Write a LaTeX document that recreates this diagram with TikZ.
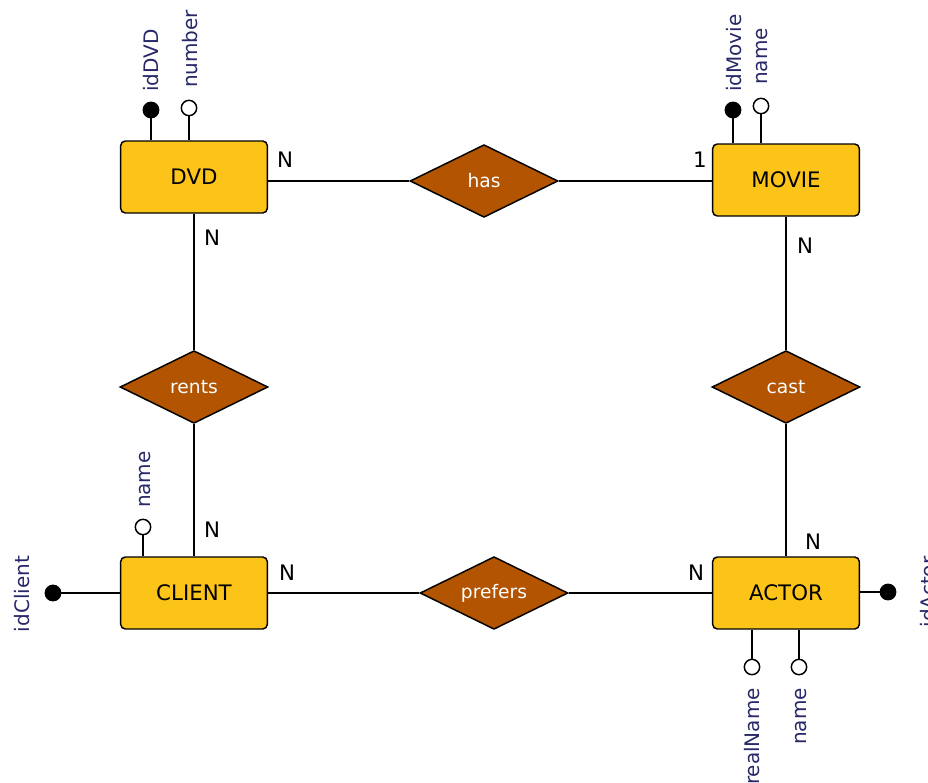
\documentclass[tikz,border=0pt]{standalone}
\usepackage{fontspec}
\setmainfont{DejaVu Sans}
\usepackage{tikz}
\usetikzlibrary{shapes.geometric}

\definecolor{entityfill}{RGB}{252,196,25}
\definecolor{relfill}{RGB}{178,84,0}
\definecolor{attrtext}{RGB}{40,40,105}

\tikzset{
	entity/.style={draw, fill=entityfill, rounded corners=3.5pt, minimum width=110pt, minimum height=54pt, font=\fontsize{16}{19}\selectfont},
	relation/.style={diamond, shape aspect=2, draw, fill=relfill, text=white, minimum width=111pt, minimum height=54.5pt, inner sep=0pt, font=\fontsize{14}{17}\selectfont},
	keyattr/.style={circle, draw, fill=black, minimum size=11.5pt, inner sep=0pt},
	plainattr/.style={circle, draw, fill=white, minimum size=11.5pt, inner sep=0pt},
	attrlabel/.style={rotate=90, text=attrtext, inner sep=1pt, font=\fontsize{15}{18}\selectfont},
	card/.style={inner sep=0pt, font=\fontsize{16}{19}\selectfont}
}

\begin{document}
\begin{tikzpicture}[x=0.75pt, y=-0.75pt, line width=1.1pt]
		
		\useasboundingbox (0,0) rectangle (928,782);
		
		%
		\node[entity] (dvd) at (194,177) {DVD};
		\node[entity] (movie) at (786,180) {MOVIE};
		\node[entity] (client) at (194,593) {CLIENT};
		\node[entity] (actor) at (786,593) {ACTOR};
		
		%
		\node[relation] (has) at (484,181) {has};
		\node[relation] (rents) at (194,387) {rents};
		\node[relation] (cast) at (786,387) {cast};
		\node[relation] (prefers) at (494,593) {prefers};
		
		\draw (has.west) -- (has.west -| dvd.east);
		\draw (has.east) -- (has.east -| movie.west);
		\draw (dvd.south) -- (rents.north);
		\draw (rents.south) -- (client.north);
		\draw (movie.south) -- (cast.north);
		\draw (cast.south) -- (actor.north);
		\draw (prefers.west) -- (client.east);
		\draw (prefers.east) -- (actor.west);
		
		%
		\node[card] (c1) at (285,160) {N};
		\node[card] (c2) at (700,160) {1};
		\node[card] (c3) at (212,238) {N};
		\node[card] (c4) at (805,246) {N};
		\node[card] (c5) at (212,530) {N};
		\node[card] (c6) at (813,542) {N};
		\node[card] (c7) at (287,573) {N};
		\node[card] (c8) at (696,573) {N};
		
		%
		\node[keyattr] (idDVD) at (151,110) {};
		\node[plainattr] (number) at (189,108) {};
		\draw (idDVD) -- (idDVD |- dvd.north);
		\draw (number) -- (number |- dvd.north);
		\node[attrlabel, anchor=west] (idDVDl) at (151,94) {idDVD};
		\node[attrlabel, anchor=west] (numberl) at (190,90) {number};
		
		\node[keyattr] (idMovie) at (733,110) {};
		\node[plainattr] (movieName) at (761,106) {};
		\draw (idMovie) -- (idMovie |- movie.north);
		\draw (movieName) -- (movieName |- movie.north);
		\node[attrlabel, anchor=west] (idMoviel) at (734,94) {idMovie};
		\node[attrlabel, anchor=west] (movieNamel) at (762,87) {name};
		
		\node[plainattr] (clientName) at (143,527) {};
		\node[keyattr] (idClient) at (53,593) {};
		\draw (clientName) -- (clientName |- client.north);
		\draw (idClient) -- (client.west);
		\node[attrlabel, anchor=west] (clientNamel) at (145,510) {name};
		\node[attrlabel] (idClientl) at (22,594) {idClient};
		
		\node[keyattr] (idActor) at (888,592) {};
		\node[plainattr] (realName) at (752,667) {};
		\node[plainattr] (actorName) at (799,667) {};
		\draw (idActor) -- (idActor -| actor.east);
		\draw (realName) -- (realName |- actor.south);
		\draw (actorName) -- (actorName |- actor.south);
		\node[attrlabel] (idActorl) at (928,592) {idActor};
		\node[attrlabel, anchor=east] (realNamel) at (752,686) {realName};
		\node[attrlabel, anchor=east] (actorNamel) at (801,686) {name};
		
	\end{tikzpicture}
\end{document}
